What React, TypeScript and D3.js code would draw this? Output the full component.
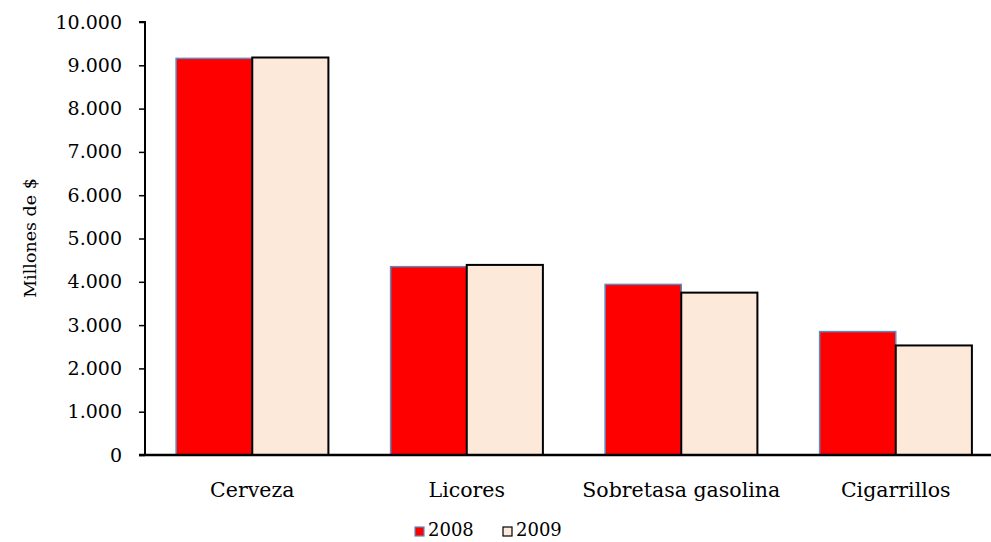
import React, { useRef, useEffect } from "react";
import * as d3 from "d3";

const categories = ["Cerveza", "Licores", "Sobretasa gasolina", "Cigarrillos"];
const seriesNames = ["2008", "2009"];
const values2008 = [9160, 4350, 3940, 2850];
const values2009 = [9180, 4390, 3750, 2530];
const yTicks = [0, 1000, 2000, 3000, 4000, 5000, 6000, 7000, 8000, 9000, 10000];

const fills = ["#ff0000", "#fde9d9"];
const strokes = ["#5b8ac4", "#000000"];
const strokeWidths = [1.5, 2];

const App = () => {
    const ref = useRef<SVGSVGElement | null>(null);

    useEffect(() => {
        const width = 991;
        const height = 542;
        const left = 145;
        const top = 22;
        const bottom = 455;
        const font = "'DejaVu Serif', serif";

        const svg = d3.select(ref.current);
        svg.selectAll("*").remove();

        const x = d3
            .scaleBand()
            .domain(categories)
            .range([left, 1003])
            .paddingInner(0.29)
            .paddingOuter(0.145);
        const xs = d3.scaleBand().domain(seriesNames).range([0, x.bandwidth()]);
        const y = d3.scaleLinear().domain([0, 10000]).range([bottom, top]);

        const series = [values2008, values2009];
        const fmt = (v: number) => d3.format(",")(v).replace(/,/g, ".");

        // Bars
        series.forEach((vals, si) => {
            svg.append("g")
                .selectAll("rect")
                .data(categories)
                .enter()
                .append("rect")
                .attr("x", (c) => x(c)! + xs(seriesNames[si])!)
                .attr("y", (c, i) => y(vals[i]))
                .attr("width", xs.bandwidth())
                .attr("height", (c, i) => bottom - y(vals[i]))
                .attr("fill", fills[si])
                .attr("stroke", strokes[si])
                .attr("stroke-width", strokeWidths[si]);
        });

        // Y axis
        const yAxis = svg
            .append("g")
            .attr("transform", `translate(${left},0)`)
            .call(
                d3
                    .axisLeft(y)
                    .tickValues(yTicks)
                    .tickSize(6)
                    .tickPadding(17)
                    .tickFormat((d) => fmt(d as number))
            );
        yAxis.select(".domain").attr("stroke", "#000").attr("stroke-width", 2).attr("d", `M-6,${top}H0V${bottom}`);
        yAxis.selectAll(".tick line").attr("stroke", "#000").attr("stroke-width", 1.5);
        yAxis
            .selectAll(".tick text")
            .attr("font-family", font)
            .attr("font-size", 19)
            .attr("fill", "#000");

        // X axis
        const xAxis = svg
            .append("g")
            .attr("transform", `translate(0,${bottom})`)
            .call(d3.axisBottom(x).tickSize(0).tickPadding(27));
        xAxis.select(".domain").attr("stroke", "#000").attr("stroke-width", 2.5).attr("d", `M${left - 6},0H${width}`);
        xAxis
            .selectAll(".tick text")
            .attr("font-family", font)
            .attr("font-size", 20.5)
            .attr("fill", "#000");

        // Y title
        svg.append("text")
            .attr("transform", `translate(36,238) rotate(-90)`)
            .attr("text-anchor", "middle")
            .attr("font-family", font)
            .attr("font-size", 17.5)
            .text("Millones de $");

        // Legend
        const legendX = [415, 503];
        seriesNames.forEach((name, i) => {
            svg.append("rect")
                .attr("x", legendX[i])
                .attr("y", 527)
                .attr("width", 9)
                .attr("height", 9)
                .attr("fill", fills[i])
                .attr("stroke", strokes[i])
                .attr("stroke-width", 1.2);
            svg.append("text")
                .attr("x", legendX[i] + 13)
                .attr("y", 536)
                .attr("font-family", font)
                .attr("font-size", 18)
                .text(name);
        });

        svg.attr("width", width).attr("height", height);
    }, []);

    return (
        <svg
            ref={ref}
            width={991}
            height={542}
            style={{ position: "absolute", left: 0, top: 0, background: "#fff" }}
        />
    );
};

export default App;
